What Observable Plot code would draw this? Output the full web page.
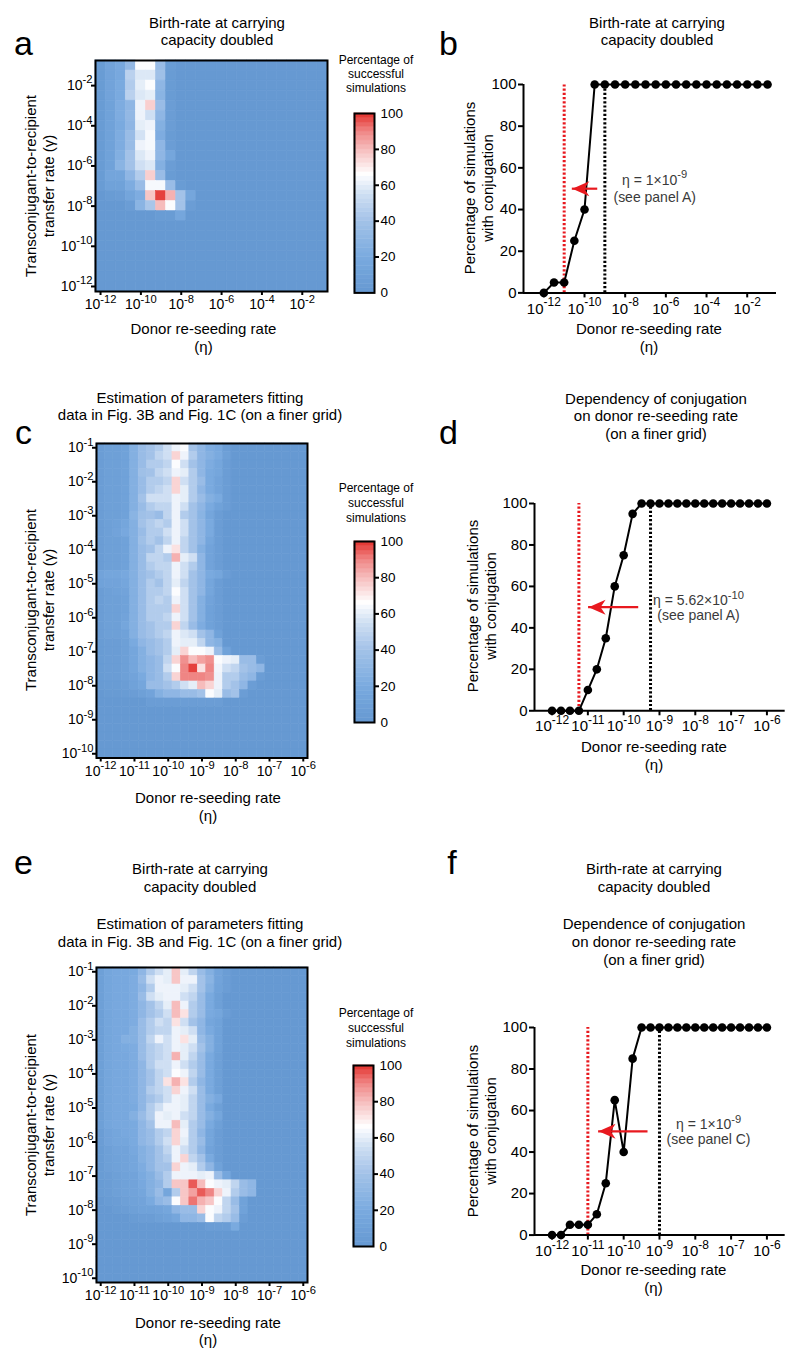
<!DOCTYPE html>
<html><head><meta charset="utf-8">
<script src="https://cdn.jsdelivr.net/npm/d3@7"></script>
<script src="https://cdn.jsdelivr.net/npm/@observablehq/plot@0.6"></script>
<style>
body{margin:0;background:#fff;}
#root{position:relative;width:800px;height:1361px;overflow:hidden;background:#fff;font-family:"Liberation Sans",Arial,Helvetica,sans-serif;color:#000;}
</style></head><body><div id="root"></div>
<script>
// ---------- DATA ----------
// grid exponents (log10 of rates)
const coarseX = [-12,-11.5,-11,-10.5,-10,-9.5,-9,-8.5,-8,-7.5,-7,-6.5,-6,-5.5,-5,-4.5,-4,-3.5,-3,-2.5,-2,-1.5,-1];
const coarseY = [-1,-1.5,-2,-2.5,-3,-3.5,-4,-4.5,-5,-5.5,-6,-6.5,-7,-7.5,-8,-8.5,-9,-9.5,-10,-10.5,-11,-11.5,-12];
const fineX = [-12,-11.75,-11.5,-11.25,-11,-10.75,-10.5,-10.25,-10,-9.75,-9.5,-9.25,-9,-8.75,-8.5,-8.25,-8,-7.75,-7.5,-7.25,-7,-6.75,-6.5,-6.25,-6];
const fineY = [-1,-1.25,-1.5,-1.75,-2,-2.25,-2.5,-2.75,-3,-3.25,-3.5,-3.75,-4,-4.25,-4.5,-4.75,-5,-5.25,-5.5,-5.75,-6,-6.25,-6.5,-6.75,-7,-7.25,-7.5,-7.75,-8,-8.25,-8.5,-8.75,-9,-9.25,-9.5,-9.75,-10];
const coarseTicks = [-12,-10,-8,-6,-4,-2];
const fineXTicks = [-12,-11,-10,-9,-8,-7,-6];
const fineYTicks = [-1,-2,-3,-4,-5,-6,-7,-8,-9,-10];
const pctTicks = [0,20,40,60,80,100];

// panel a heatmap (% successful), rows top (γ=1e-1) to bottom (γ=1e-12)
const heatA = [
[3,12,18,32,65,65,35,3,0,0,0,0,0,0,0,0,0,0,0,0,0,0,0],
[3,12,18,48,58,58,38,3,0,0,0,0,0,0,0,0,0,0,0,0,0,0,0],
[3,12,20,45,60,65,30,3,0,0,0,0,0,0,0,0,0,0,0,0,0,0,0],
[3,12,20,48,58,60,28,3,0,0,0,0,0,0,0,0,0,0,0,0,0,0,0],
[3,10,22,30,62,76,35,5,0,0,0,0,0,0,0,0,0,0,0,0,0,0,0],
[3,10,22,32,62,55,30,5,0,0,0,0,0,0,0,0,0,0,0,0,0,0,0],
[3,10,20,30,60,62,25,5,0,0,0,0,0,0,0,0,0,0,0,0,0,0,0],
[3,10,22,35,56,64,22,3,0,0,0,0,0,0,0,0,0,0,0,0,0,0,0],
[3,10,22,35,62,64,30,5,0,0,0,0,0,0,0,0,0,0,0,0,0,0,0],
[3,10,24,40,58,62,30,15,0,0,0,0,0,0,0,0,0,0,0,0,0,0,0],
[3,10,28,40,55,58,25,5,0,0,0,0,0,0,0,0,0,0,0,0,0,0,0],
[3,14,14,30,45,76,35,3,0,0,0,0,0,0,0,0,0,0,0,0,0,0,0],
[3,10,10,22,35,64,64,35,3,0,0,0,0,0,0,0,0,0,0,0,0,0,0],
[0,3,5,14,22,78,98,82,40,15,0,0,0,0,0,0,0,0,0,0,0,0,0],
[0,0,0,5,28,42,80,65,40,5,0,0,0,0,0,0,0,0,0,0,0,0,0],
[0,0,0,0,0,0,3,3,15,0,0,0,0,0,0,0,0,0,0,0,0,0,0],
[0,0,0,0,0,0,0,0,0,0,0,0,0,0,0,0,0,0,0,0,0,0,0],
[0,0,0,0,0,0,0,0,0,0,0,0,0,0,0,0,0,0,0,0,0,0,0],
[0,0,0,0,0,0,0,0,0,0,0,0,0,0,0,0,0,0,0,0,0,0,0],
[0,0,0,0,0,0,0,0,0,0,0,0,0,0,0,0,0,0,0,0,0,0,0],
[0,0,0,0,0,0,0,0,0,0,0,0,0,0,0,0,0,0,0,0,0,0,0],
[0,0,0,0,0,0,0,0,0,0,0,0,0,0,0,0,0,0,0,0,0,0,0],
[0,0,0,0,0,0,0,0,0,0,0,0,0,0,0,0,0,0,0,0,0,0,0]
];

// panel c heatmap (finer grid)
const heatC = [
[5,8,8,10,25,35,40,45,55,62,65,40,30,22,18,5,0,0,0,0,0,0,0,0,0],
[5,8,8,10,25,35,40,50,55,75,62,45,30,25,20,8,0,0,0,0,0,0,0,0,0],
[5,8,8,10,25,35,45,45,50,65,55,40,30,22,15,5,0,0,0,0,0,0,0,0,0],
[5,8,8,10,25,38,40,50,55,62,60,45,30,20,15,5,0,0,0,0,0,0,0,0,0],
[5,8,8,10,25,35,45,45,50,75,55,45,35,20,12,5,0,0,0,0,0,0,0,0,0],
[5,8,8,10,25,35,45,50,55,75,60,45,30,20,12,5,0,0,0,0,0,0,0,0,0],
[5,8,8,10,25,40,55,55,55,62,60,45,35,25,20,5,0,0,0,0,0,0,0,0,0],
[5,8,8,10,25,35,45,50,50,62,55,40,30,20,10,5,0,0,0,0,0,0,0,0,0],
[5,8,8,10,28,38,40,35,50,62,45,40,28,15,5,0,0,0,0,0,0,0,0,0,0],
[5,8,10,15,25,40,45,50,45,62,55,40,30,20,5,0,0,0,0,0,0,0,0,0,0],
[5,8,12,18,25,35,45,45,55,62,55,40,30,20,5,0,0,0,0,0,0,0,0,0,0],
[5,8,8,10,25,38,45,40,50,62,50,40,30,15,5,0,0,0,0,0,0,0,0,0,0],
[5,8,8,10,25,35,40,50,62,72,50,40,25,12,5,0,0,0,0,0,0,0,0,0,0],
[5,8,8,10,25,35,50,50,45,82,60,55,30,12,5,0,0,0,0,0,0,0,0,0,0],
[5,8,8,10,25,35,45,50,50,62,55,45,30,12,5,0,0,0,0,0,0,0,0,0,0],
[12,15,15,18,25,35,40,45,50,62,55,40,30,20,15,5,0,0,0,0,0,0,0,0,0],
[10,12,12,15,25,35,45,40,50,60,50,40,30,15,5,0,0,0,0,0,0,0,0,0,0],
[5,8,10,12,25,35,45,45,50,65,55,40,30,15,5,0,0,0,0,0,0,0,0,0,0],
[5,8,8,10,25,35,45,50,45,62,55,40,25,12,5,0,0,0,0,0,0,0,0,0,0],
[5,8,8,10,25,35,45,45,45,75,55,40,25,10,5,0,0,0,0,0,0,0,0,0,0],
[5,8,8,12,25,35,45,45,50,62,55,40,25,10,5,0,0,0,0,0,0,0,0,0,0],
[5,8,8,15,25,35,40,45,45,75,50,35,22,10,5,0,0,0,0,0,0,0,0,0,0],
[5,8,8,10,25,35,40,45,50,62,58,55,40,30,10,0,0,0,0,0,0,0,0,0,0],
[3,5,5,8,20,30,35,40,45,62,60,60,50,30,25,0,0,0,0,0,0,0,0,0,0],
[3,5,5,8,15,25,35,40,45,60,75,65,65,62,35,10,0,0,0,0,0,0,0,0,0],
[3,5,5,8,15,25,30,35,50,75,88,80,85,88,65,62,60,35,35,5,0,0,0,0,0],
[3,5,5,8,15,25,30,35,55,65,90,98,72,90,63,55,50,40,35,30,0,0,0,0,0],
[3,5,5,8,12,20,30,35,45,75,90,90,90,88,62,45,45,35,30,5,0,0,0,0,0],
[2,3,3,5,10,15,35,35,40,45,55,60,80,75,62,45,40,30,5,0,0,0,0,0,0],
[0,2,2,3,5,8,12,25,30,30,35,35,40,65,60,35,40,5,0,0,0,0,0,0,0],
[0,0,0,0,0,0,5,5,5,5,5,5,5,5,5,0,0,0,0,0,0,0,0,0,0],
[0,0,0,0,0,0,0,0,0,0,0,0,0,0,0,0,0,0,0,0,0,0,0,0,0],
[0,0,0,0,0,0,0,0,0,0,0,0,0,0,0,0,0,0,0,0,0,0,0,0,0],
[0,0,0,0,0,0,0,0,0,0,0,0,0,0,0,0,0,0,0,0,0,0,0,0,0],
[0,0,0,0,0,0,0,0,0,0,0,0,0,0,0,0,0,0,0,0,0,0,0,0,0],
[0,0,0,0,0,0,0,0,0,0,0,0,0,0,0,0,0,0,0,0,0,0,0,0,0],
[0,0,0,0,0,0,0,0,0,0,0,0,0,0,0,0,0,0,0,0,0,0,0,0,0]
];

// panel e heatmap (finer grid, doubled birth-rate)
const heatE = [
[8,15,18,18,20,30,45,55,60,78,60,50,35,25,12,5,0,0,0,0,0,0,0,0,0],
[8,15,18,18,22,35,55,62,60,78,62,62,40,28,12,5,0,0,0,0,0,0,0,0,0],
[8,15,18,18,22,30,45,62,62,62,60,55,40,25,10,5,0,0,0,0,0,0,0,0,0],
[8,15,18,18,22,35,55,60,62,62,55,50,35,20,8,0,0,0,0,0,0,0,0,0,0],
[8,15,18,18,22,30,40,50,60,80,62,45,35,20,8,0,0,0,0,0,0,0,0,0,0],
[8,15,18,18,22,30,40,45,55,80,72,45,35,20,15,5,0,0,0,0,0,0,0,0,0],
[8,15,18,18,22,35,45,55,50,72,55,40,30,15,10,0,0,0,0,0,0,0,0,0,0],
[8,15,18,18,25,35,45,50,50,62,60,55,30,20,10,0,0,0,0,0,0,0,0,0,0],
[8,15,18,25,25,35,50,62,55,62,72,60,35,25,10,0,0,0,0,0,0,0,0,0,0],
[8,15,18,20,22,35,45,50,55,62,60,55,40,25,10,0,0,0,0,0,0,0,0,0,0],
[8,15,18,18,22,35,45,50,55,82,60,50,35,20,8,0,0,0,0,0,0,0,0,0,0],
[8,15,18,18,22,30,45,55,55,62,55,45,35,20,8,0,0,0,0,0,0,0,0,0,0],
[8,15,18,18,22,30,40,50,55,65,62,50,35,20,8,0,0,0,0,0,0,0,0,0,0],
[8,15,18,18,22,30,40,50,72,82,72,45,30,20,8,0,0,0,0,0,0,0,0,0,0],
[8,15,18,18,22,30,45,50,55,75,62,55,35,20,8,0,0,0,0,0,0,0,0,0,0],
[8,15,18,18,22,30,40,45,55,62,60,50,35,25,18,0,0,0,0,0,0,0,0,0,0],
[8,15,18,18,20,30,45,55,62,62,60,50,35,20,8,0,0,0,0,0,0,0,0,0,0],
[8,15,18,18,25,35,45,62,60,62,55,50,35,25,15,0,0,0,0,0,0,0,0,0,0],
[8,15,18,18,20,30,40,62,62,80,60,45,35,20,8,0,0,0,0,0,0,0,0,0,0],
[5,12,15,18,20,30,35,45,50,75,62,45,30,15,5,0,0,0,0,0,0,0,0,0,0],
[5,12,15,15,20,30,35,45,55,75,60,45,35,15,5,0,0,0,0,0,0,0,0,0,0],
[3,8,12,12,18,25,30,40,50,62,55,45,30,12,5,0,0,0,0,0,0,0,0,0,0],
[3,8,10,12,15,25,30,40,45,62,75,50,40,20,5,0,0,0,0,0,0,0,0,0,0],
[3,8,10,12,15,22,30,40,40,75,62,60,45,30,10,0,0,0,0,0,0,0,0,0,0],
[3,5,8,10,12,20,25,35,45,62,62,62,60,62,35,15,0,0,0,0,0,0,0,0,0],
[3,5,8,10,12,18,25,30,45,78,78,95,80,65,62,60,50,35,30,0,0,0,0,0,0],
[3,5,8,10,12,15,25,35,15,45,78,85,95,90,75,62,45,35,30,0,0,0,0,0,0],
[0,3,5,8,10,12,20,30,35,65,78,92,82,78,65,50,35,10,0,0,0,0,0,0,0],
[0,0,3,5,8,10,10,12,15,30,35,35,75,65,62,50,40,10,0,0,0,0,0,0,0],
[0,0,0,0,3,5,5,8,10,15,30,30,35,65,50,45,35,5,0,0,0,0,0,0,0],
[0,0,0,0,0,0,0,0,0,0,0,0,0,5,5,5,20,0,0,0,0,0,0,0,0],
[0,0,0,0,0,0,0,0,0,0,0,0,0,0,0,0,0,0,0,0,0,0,0,0,0],
[0,0,0,0,0,0,0,0,0,0,0,0,0,0,0,0,0,0,0,0,0,0,0,0,0],
[0,0,0,0,0,0,0,0,0,0,0,0,0,0,0,0,0,0,0,0,0,0,0,0,0],
[0,0,0,0,0,0,0,0,0,0,0,0,0,0,0,0,0,0,0,0,0,0,0,0,0],
[0,0,0,0,0,0,0,0,0,0,0,0,0,0,0,0,0,0,0,0,0,0,0,0,0],
[0,0,0,0,0,0,0,0,0,0,0,0,0,0,0,0,0,0,0,0,0,0,0,0,0]
];

// line panels: % of simulations with conjugation
const etaB = [-12,-11.5,-11,-10.5,-10,-9.5,-9,-8.5,-8,-7.5,-7,-6.5,-6,-5.5,-5,-4.5,-4,-3.5,-3,-2.5,-2,-1.5,-1];
const pctB = [0,5,5,25,40,100,100,100,100,100,100,100,100,100,100,100,100,100,100,100,100,100,100];
const etaD = [-12,-11.75,-11.5,-11.25,-11,-10.75,-10.5,-10.25,-10,-9.75,-9.5,-9.25,-9,-8.75,-8.5,-8.25,-8,-7.75,-7.5,-7.25,-7,-6.75,-6.5,-6.25,-6];
const pctD = [0,0,0,0,10,20,35,60,75,95,100,100,100,100,100,100,100,100,100,100,100,100,100,100,100];
const etaF = [-12,-11.75,-11.5,-11.25,-11,-10.75,-10.5,-10.25,-10,-9.75,-9.5,-9.25,-9,-8.75,-8.5,-8.25,-8,-7.75,-7.5,-7.25,-7,-6.75,-6.5,-6.25,-6];
const pctF = [0,0,5,5,5,10,25,65,40,85,100,100,100,100,100,100,100,100,100,100,100,100,100,100,100];

// reference lines (log10 η)
const redLineB = -11, blackLineB = -9;
const redLineD = -11.25, blackLineD = -9.25;
const redLineF = -11, blackLineF = -9;

const noteB = ["η = 1×10^-9", "(see panel A)"];
const noteD = ["η = 5.62×10^-10", "(see panel A)"];
const noteF = ["η = 1×10^-9", "(see panel C)"];

// colour scale stops (percentage -> colour)
const colorStops = [0, 20, 40, 55, 66, 80, 90, 100];
const colorRange = ["#6699d2", "#7aaadf", "#a3c2e8", "#cfdff3", "#ffffff", "#f6bcbc", "#ef8584", "#e3302c"];

// ---------- RENDERING ----------
const FONT = '"Liberation Sans", Arial, Helvetica, sans-serif';
const RED = "#e8191f";
const root = document.getElementById("root");
const SVGNS = "http://www.w3.org/2000/svg";
const pctColor = d3.scaleLinear().domain(colorStops).range(colorRange).interpolate(d3.interpolateRgb).clamp(true);
const colorOpts = {type: "linear", domain: [0, 100], interpolate: t => pctColor(t * 100)};
const expFmt = d => "10^" + Math.round(Math.log10(d));
const style = fs => ({fontFamily: FONT, fontSize: fs + "px", color: "black", background: "transparent", overflow: "visible"});

function supify(svg) {
  svg.querySelectorAll("text, tspan").forEach(el => {
    if (el.childElementCount) return;
    const m = (el.textContent || "").match(/^(.*)\^(\S+)$/);
    if (!m) return;
    el.textContent = m[1];
    const sup = document.createElementNS(SVGNS, "tspan");
    sup.setAttribute("font-size", "0.8em");
    sup.setAttribute("dy", "-0.6em");
    sup.textContent = m[2];
    el.appendChild(sup);
  });
}
function put(svg, left, top) {
  svg.style.position = "absolute";
  svg.style.left = left + "px";
  svg.style.top = top + "px";
  svg.style.maxWidth = "none";
  root.appendChild(svg);
}
function txt(s, cx, cy, size, rot = false, color = "#000") {
  const d = document.createElement("div");
  d.textContent = s;
  d.style.cssText = `position:absolute;left:${cx}px;top:${cy}px;font-size:${size}px;line-height:${size}px;white-space:nowrap;color:${color};transform:translate(-50%,-50%)${rot ? " rotate(-90deg)" : ""};`;
  root.appendChild(d);
}

function heatmap(M, xs, ys, step, xTicks, yTicks, box) {
  const ML = 50, MT = 8, MR = 8, MB = 32, h = step / 2;
  const cells = [];
  ys.forEach((ye, i) => xs.forEach((xe, j) => cells.push({xe, ye, v: M[i][j]})));
  const svg = Plot.plot({
    width: box.x1 - box.x0 + ML + MR, height: box.y1 - box.y0 + MT + MB,
    marginLeft: ML, marginRight: MR, marginTop: MT, marginBottom: MB,
    x: {type: "log", domain: [10 ** (d3.min(xs) - h), 10 ** (d3.max(xs) + h)]},
    y: {type: "log", domain: [10 ** (d3.min(ys) - h), 10 ** (d3.max(ys) + h)]},
    color: colorOpts,
    style: style(14),
    marks: [
      Plot.rect(cells, {x1: d => 10 ** (d.xe - h), x2: d => 10 ** (d.xe + h), y1: d => 10 ** (d.ye - h), y2: d => 10 ** (d.ye + h), fill: "v", stroke: "v", strokeWidth: 0.6}),
      Plot.frame({stroke: "black", strokeWidth: 2}),
      Plot.axisX({ticks: xTicks.map(e => 10 ** e), tickFormat: expFmt, tickSize: 4, tickPadding: 4, strokeWidth: 2, label: null}),
      Plot.axisY({ticks: yTicks.map(e => 10 ** e), tickFormat: expFmt, tickSize: 4, tickPadding: -1, strokeWidth: 2, label: null})
    ]
  });
  supify(svg);
  put(svg, box.x0 - ML, box.y0 - MT);
}

function legend(box) {
  const ML = 4, MR = 36, MT = 10, MB = 10;
  const bands = d3.range(0, 100, 2.5);
  const svg = Plot.plot({
    width: box.x1 - box.x0 + ML + MR, height: box.y1 - box.y0 + MT + MB,
    marginLeft: ML, marginRight: MR, marginTop: MT, marginBottom: MB,
    x: {domain: [0, 1], axis: null},
    y: {domain: [0, 100]},
    color: colorOpts,
    style: style(13.5),
    marks: [
      Plot.rect(bands, {x1: 0, x2: 1, y1: d => d, y2: d => d + 2.5, fill: d => d + 1.25, stroke: d => d + 1.25, strokeWidth: 0.5}),
      Plot.frame({stroke: "black", strokeWidth: 2}),
      Plot.axisY({anchor: "right", ticks: [20, 40, 60, 80], tickSize: 4, tickPadding: 2, strokeWidth: 2, label: null}),
      Plot.axisY({anchor: "right", ticks: [0, 100], tickSize: 0, tickPadding: 6, label: null})
    ]
  });
  put(svg, box.x0 - ML, box.y0 - MT);
}

const arrowHead = {draw(ctx) { ctx.moveTo(0, 0); ctx.lineTo(17, -7.5); ctx.lineTo(12, 0); ctx.lineTo(17, 7.5); ctx.closePath(); }};

function lineChart({xs, ys, xd, xTicks, redAt, blackAt, arrow, notes, noteAt, box}) {
  const ML = 60, MT = 14, MR = 14, MB = 34;
  const pts = xs.map((e, i) => ({x: 10 ** e, y: ys[i]}));
  const noteData = notes.map((t, i) => ({t, x: 10 ** noteAt[0], y: noteAt[1 + i]}));
  const svg = Plot.plot({
    width: box.x1 - box.x0 + ML + MR, height: box.y1 - box.y0 + MT + MB,
    marginLeft: ML, marginRight: MR, marginTop: MT, marginBottom: MB,
    x: {type: "log", domain: [10 ** xd[0], 10 ** xd[1]]},
    y: {domain: [0, 100]},
    style: style(15),
    marks: [
      Plot.ruleX([10 ** redAt], {y1: 0, y2: 100, stroke: RED, strokeWidth: 3, strokeDasharray: "2.2 2"}),
      Plot.ruleX([10 ** blackAt], {y1: 0, y2: 100, stroke: "black", strokeWidth: 3, strokeDasharray: "2.2 2"}),
      Plot.ruleX([10 ** xd[0]], {y1: 0, y2: 100, stroke: "black", strokeWidth: 2}),
      Plot.ruleY([0], {stroke: "black", strokeWidth: 2}),
      Plot.axisY({ticks: pctTicks, tickSize: 5, tickPadding: 2, strokeWidth: 2, label: null}),
      Plot.axisX({ticks: xTicks.map(e => 10 ** e), tickFormat: expFmt, tickSize: 5, tickPadding: 5, strokeWidth: 2, label: null}),
      Plot.line(pts, {x: "x", y: "y", stroke: "black", strokeWidth: 2}),
      Plot.dot(pts, {x: "x", y: "y", r: 4.3, fill: "black", stroke: "none"}),
      Plot.ruleY([50], {x1: 10 ** arrow[0], x2: 10 ** arrow[1], stroke: RED, strokeWidth: 2.2}),
      Plot.dot([{x: 10 ** arrow[0], y: 50}], {x: "x", y: "y", symbol: arrowHead, fill: RED, stroke: "none"}),
      Plot.text(noteData, {x: "x", y: "y", text: "t", fill: "#3a3a3a", fontSize: 14})
    ]
  });
  supify(svg);
  put(svg, box.x0 - ML, box.y0 - MT);
}

// ---- panel a ----
heatmap(heatA, coarseX, coarseY, 0.5, coarseTicks, coarseTicks, {x0: 95, x1: 327, y0: 60, y1: 291});
legend({x0: 354, x1: 374, y0: 113.3, y1: 292.7});
// ---- panel b ----
lineChart({xs: etaB, ys: pctB, xd: [-13, -0.56], xTicks: coarseTicks, redAt: redLineB, blackAt: blackLineB,
  arrow: [-10.6, -9.35], notes: noteB, noteAt: [-6.55, 54, 46], box: {x0: 523, x1: 776, y0: 84.3, y1: 292.7}});
// ---- panel c ----
heatmap(heatC, fineX, fineY, 0.25, fineXTicks, fineYTicks, {x0: 95.5, x1: 306.5, y0: 443, y1: 757.5});
legend({x0: 354, x1: 374, y0: 540.7, y1: 721.7});
// ---- panel d ----
lineChart({xs: etaD, ys: pctD, xd: [-12.49, -5.49], xTicks: fineXTicks, redAt: redLineD, blackAt: blackLineD,
  arrow: [-10.98, -9.58], notes: noteD, noteAt: [-7.91, 53, 45.8], box: {x0: 534.3, x1: 785, y0: 502.7, y1: 710}});
// ---- panel e ----
heatmap(heatE, fineX, fineY, 0.25, fineXTicks, fineYTicks, {x0: 95.5, x1: 306.5, y0: 967.3, y1: 1282.3});
legend({x0: 353, x1: 373, y0: 1065, y1: 1246});
// ---- panel f ----
lineChart({xs: etaF, ys: pctF, xd: [-12.49, -5.49], xTicks: fineXTicks, redAt: redLineF, blackAt: blackLineF,
  arrow: [-10.7, -9.32], notes: noteF, noteAt: [-7.63, 53.1, 45.8], box: {x0: 534.3, x1: 785, y0: 1026.7, y1: 1234.3}});

// ---------- TEXT ----------
// panel letters
txt("a", 23.5, 43, 34); txt("b", 448.5, 43, 34);
txt("c", 23.5, 431.5, 34); txt("d", 448.5, 431.5, 34);
txt("e", 23.5, 861.5, 34); txt("f", 452, 861.5, 34);
// titles
txt("Birth-rate at carrying", 217, 21.5, 15); txt("capacity doubled", 217, 39, 15);
txt("Birth-rate at carrying", 657, 21.5, 15); txt("capacity doubled", 657, 39, 15);
txt("Estimation of parameters fitting", 200, 396.5, 15); txt("data in Fig. 3B and Fig. 1C (on a finer grid)", 200, 414, 15);
txt("Dependency of conjugation", 656, 397.5, 15); txt("on donor re-seeding rate", 656, 415, 15); txt("(on a finer grid)", 656, 432.5, 15);
txt("Birth-rate at carrying", 200, 868, 15); txt("capacity doubled", 200, 885.5, 15);
txt("Estimation of parameters fitting", 200, 922.5, 15); txt("data in Fig. 3B and Fig. 1C (on a finer grid)", 200, 940.5, 15);
txt("Birth-rate at carrying", 654, 868, 15); txt("capacity doubled", 654, 885.5, 15);
txt("Dependence of conjugation", 654, 922.5, 15); txt("on donor re-seeding rate", 654, 940.5, 15); txt("(on a finer grid)", 654, 958.5, 15);
// x-axis titles
[[203.5, 328], [649, 328], [208, 797], [654, 746], [208, 1321.5], [653.5, 1269]].forEach(([x, y]) => {
  txt("Donor re-seeding rate", x, y, 15); txt("(η)", x, y + 17.5, 15);
});
// y-axis titles
[[186], [600], [1125]].forEach(([y]) => {
  txt("Transconjugant-to-recipient", 29.5, y, 15, true); txt("transfer rate (γ)", 48, y, 15, true);
});
[[468.5, 188], [471.5, 606], [471.5, 1131]].forEach(([x, y]) => {
  txt("Percentage of simulations", x, y, 15, true); txt("with conjugation", x + 18, y, 15, true);
});
// legend titles
[[60, 74, 88], [488, 503, 518], [1013, 1028, 1043]].forEach(([a, b, c]) => {
  txt("Percentage of", 376, a, 12); txt("successful", 376, b, 12); txt("simulations", 376, c, 12);
});
</script></body></html>
